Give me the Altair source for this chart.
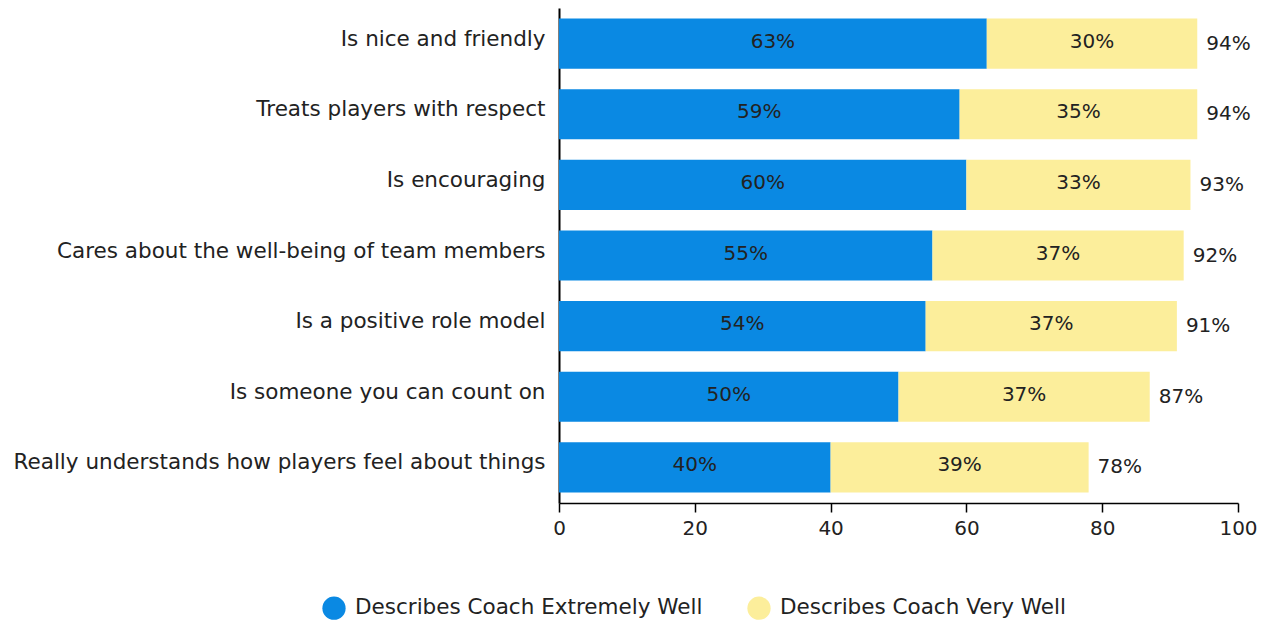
import altair as alt
import pandas as pd

categories = [
    "Is nice and friendly",
    "Treats players with respect",
    "Is encouraging",
    "Cares about the well-being of team members",
    "Is a positive role model",
    "Is someone you can count on",
    "Really understands how players feel about things",
]
extremely_well = [63, 59, 60, 55, 54, 50, 40]
very_well = [31, 35, 33, 37, 37, 37, 38]
extremely_labels = ["63%", "59%", "60%", "55%", "54%", "50%", "40%"]
very_labels = ["30%", "35%", "33%", "37%", "37%", "37%", "39%"]
total_labels = ["94%", "94%", "93%", "92%", "91%", "87%", "78%"]

series_names = ["Describes Coach Extremely Well", "Describes Coach Very Well"]
colors = ["#0a89e3", "#fcee9b"]
FONT = "DejaVu Sans"

rows = []
for i, c in enumerate(categories):
    e, v = extremely_well[i], very_well[i]
    rows.append(dict(cat=c, series=series_names[0], start=0, end=e,
                     mid=e / 2, label=extremely_labels[i], order=0))
    rows.append(dict(cat=c, series=series_names[1], start=e, end=e + v,
                     mid=e + v / 2, label=very_labels[i], order=1))
seg = pd.DataFrame(rows)
tot = pd.DataFrame(dict(cat=categories,
                        total=[extremely_well[i] + very_well[i] for i in range(len(categories))],
                        label=total_labels))

y_enc = alt.Y("cat:N", sort=categories, title=None,
              scale=alt.Scale(paddingInner=0.29, paddingOuter=0.15),
              axis=alt.Axis(domainColor="#000", domainWidth=2, ticks=False,
                            labelFontSize=21.5, labelFont=FONT, labelColor="#222",
                            labelPadding=14, labelLimit=600, labelOffset=-4))
x_scale = alt.Scale(domain=[0, 100], nice=False)

bars = alt.Chart(seg).mark_bar().encode(
    y=y_enc,
    x=alt.X("start:Q", scale=x_scale, title=None,
            axis=alt.Axis(values=[0, 20, 40, 60, 80, 100], grid=False,
                          domainColor="#000", domainWidth=1.5,
                          tickColor="#000", tickSize=9, tickWidth=1.5,
                          labelFontSize=20, labelFont=FONT, labelColor="#222",
                          labelPadding=6, labelFlush=False)),
    x2="end:Q",
    color=alt.Color("series:N", scale=alt.Scale(domain=series_names, range=colors),
                    legend=alt.Legend(title=None, orient="none", direction="horizontal",
                                      legendX=-237, legendY=588,
                                      symbolType="circle", symbolSize=540,
                                      symbolStrokeWidth=0, labelLimit=500,
                                      labelFontSize=21.5, labelFont=FONT,
                                      labelColor="#222", columnPadding=44,
                                      labelOffset=9)),
    order="order:Q",
)

seg_text = alt.Chart(seg).mark_text(fontSize=20, font=FONT, color="#222", dy=-2).encode(
    y=alt.Y("cat:N", sort=categories),
    x=alt.X("mid:Q", scale=x_scale),
    text="label:N",
)

tot_text = alt.Chart(tot).mark_text(fontSize=20, font=FONT, color="#222",
                                    align="left", dx=9).encode(
    y=alt.Y("cat:N", sort=categories),
    x=alt.X("total:Q", scale=x_scale),
    text="label:N",
)

chart = alt.layer(bars, seg_text, tot_text).properties(
    width=679, height=495,
    autosize=alt.AutoSizeParams(type="none"),
    padding={"left": 551, "top": 0, "right": 19, "bottom": 117},
).configure_view(stroke=None)

chart.save("out.html", embed_options={"renderer": "svg", "actions": False})
